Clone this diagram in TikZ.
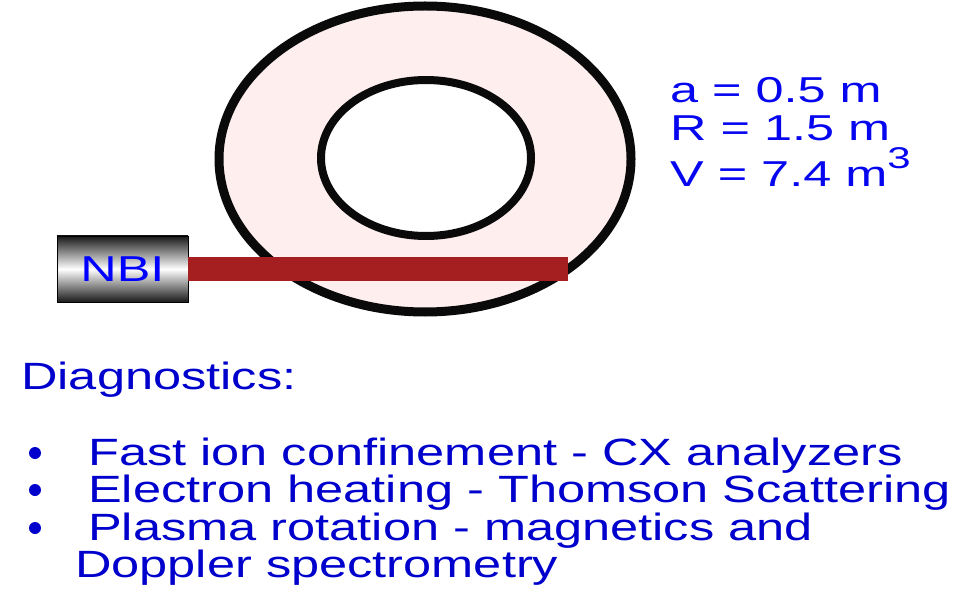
\documentclass[tikz,border=0pt]{standalone}
\usepackage{fontspec}
\setmainfont{Liberation Sans}
\usepackage{tikz}
\usetikzlibrary{positioning}
\definecolor{TKblue}{RGB}{0,0,205}
\definecolor{TKbright}{RGB}{5,5,240}
\definecolor{TKnbi}{RGB}{0,0,255}
\definecolor{TKpink}{RGB}{255,238,238}
\definecolor{TKred}{RGB}{165,30,32}
\definecolor{TKedge}{RGB}{10,10,10}
\newcommand{\wide}[1]{\scalebox{1.4}[1]{#1}}
\newcommand{\listwide}[1]{\scalebox{1.33}[1]{#1}}
\tikzset{
  vessel/.style={draw=TKedge,line width=9pt,fill=TKpink},
  hole/.style={draw=TKedge,line width=8pt,fill=white},
  beam/.style={draw=TKred,line width=24pt},
  injector/.style={draw=black,line width=0.8pt,minimum width=131pt,minimum height=66pt,
                   inner sep=0pt,top color=black!90,bottom color=black!90,middle color=white,
                   text=TKnbi,font=\fontsize{36}{36}\selectfont},
  param/.style={text=TKbright,anchor=base west,inner sep=0pt,font=\fontsize{36}{36}\selectfont},
  listtext/.style={text=TKblue,anchor=base west,inner sep=0pt,font=\fontsize{38}{38}\selectfont},
  dot/.style={fill=TKblue,circle,inner sep=0pt,minimum size=12pt}
}
\begin{document}
\begin{tikzpicture}[x=1pt,y=-1pt]
  \useasboundingbox (0,0) rectangle (957,593);
  % torus seen from above
  \draw[vessel] (425,159) ellipse [x radius=206,y radius=153];
  \draw[hole] (426,158) ellipse [x radius=105,y radius=78];
  % neutral beam
  \node[injector] (nbi) at (122.5,269) {\wide{NBI}};
  \coordinate (beamend) at (568,269);
  \draw[beam] (nbi.east) -- (beamend);
  % machine parameters
  \node[param] (a) at (670,103) {\wide{a = 0.5 m}};
  \node[param] (R) at (670,141) {\wide{R = 1.5 m}};
  \node[param] (V) at (670,187) {\wide{V = 7.4 m\raisebox{0.5em}{\fontsize{30}{30}\selectfont 3}}};
  % diagnostics list
  \node[listtext] (diag) at (21,389) {\listwide{Diagnostics:}};
  \node[dot] (b1) at (35,453) {};
  \node[listtext] (fast) at (88,465) {\listwide{Fast ion confinement - CX analyzers}};
  \node[dot] (b2) at (35,490) {};
  \node[listtext] (elec) at (88,502) {\listwide{Electron heating - Thomson Scattering}};
  \node[dot] (b3) at (35,528) {};
  \node[listtext] (rot) at (88,540) {\listwide{Plasma rotation - magnetics and}};
  \node[listtext] (dopp) at (75,577) {\listwide{Doppler spectrometry}};
\end{tikzpicture}
\end{document}
